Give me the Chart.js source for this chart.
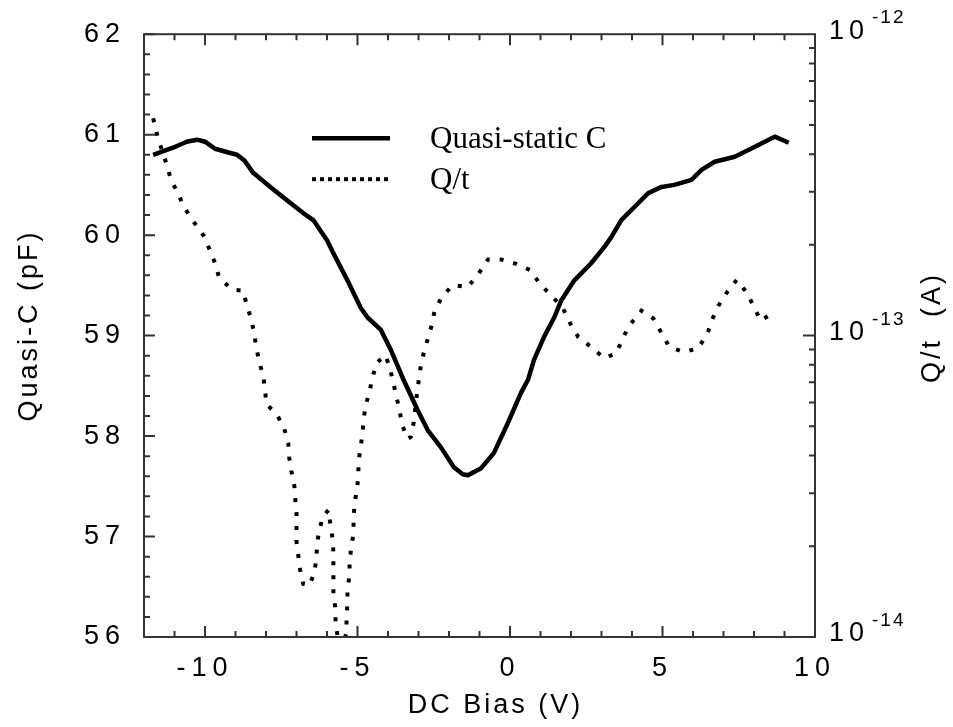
<!DOCTYPE html>
<html>
<head>
<meta charset="utf-8">
<title>Quasi-static C and Q/t vs DC Bias</title>
<script src="https://cdn.jsdelivr.net/npm/chart.js@4.4.1/dist/chart.umd.min.js"></script>
<style>
  html, body { margin: 0; padding: 0; background: #fff; }
  canvas { display: block; }
</style>
</head>
<body>
<canvas id="chart" width="953" height="727"></canvas>
<script>
// solid curve: quasi-static capacitance (pF) against DC bias (V)
const capBias = [-11.7, -11.05, -10.6, -10.26, -10.0, -9.67, -9.2, -8.95, -8.7, -8.42,
  -7.86, -7.2, -6.78, -6.45, -6.0, -5.79, -5.33, -4.9, -4.67, -4.24,
  -3.91, -3.49, -3.03, -2.7, -2.27, -1.84, -1.55, -1.38, -0.95, -0.53,
  -0.07, 0.36, 0.59, 0.79, 1.12, 1.45, 1.68, 2.11, 2.66, 3.09,
  3.32, 3.65, 4.21, 4.54, 4.97, 5.39, 5.95, 6.28, 6.71, 7.37,
  8.03, 8.68, 9.14];
const capValues = [60.80, 60.87, 60.93, 60.95, 60.93, 60.86, 60.82, 60.80, 60.74, 60.62,
  60.48, 60.32, 60.22, 60.15, 59.95, 59.82, 59.55, 59.28, 59.18, 59.06,
  58.86, 58.56, 58.26, 58.06, 57.89, 57.69, 57.62, 57.61, 57.68, 57.83,
  58.13, 58.43, 58.56, 58.76, 58.99, 59.18, 59.35, 59.55, 59.72, 59.88,
  59.98, 60.15, 60.32, 60.42, 60.48, 60.50, 60.55, 60.65, 60.73, 60.78,
  60.88, 60.98, 60.92];

// dotted curve: Q/t (A) against DC bias (V)
const qtBias = [-11.70, -11.55, -11.41, -11.25, -11.12, -10.89, -10.69, -10.39, -10.05, -9.86,
  -9.67, -9.54, -9.11, -8.75, -8.62, -8.49, -8.39, -8.32, -8.22, -8.09,
  -8.03, -7.99, -7.63, -7.40, -7.27, -7.24, -7.17, -7.07, -7.04, -7.00,
  -7.00, -7.00, -6.94, -6.88, -6.78, -6.58, -6.41, -6.35, -6.32, -6.25,
  -6.12, -5.95, -5.89, -5.82, -5.79, -5.79, -5.79, -5.79, -5.72, -5.72,
  -5.55, -5.36, -5.36, -5.33, -5.33, -5.26, -5.26, -5.20, -5.13, -5.13,
  -5.10, -5.03, -4.97, -4.97, -4.90, -4.84, -4.80, -4.74, -4.61, -4.51,
  -4.38, -4.08, -3.93, -3.82, -3.72, -3.62, -3.52, -3.36, -3.26, -3.16,
  -3.06, -3.00, -2.93, -2.83, -2.70, -2.57, -2.47, -2.24, -1.88, -1.38,
  -1.02, -0.72, -0.30, 0.20, 0.66, 0.99, 1.35, 1.74, 1.97, 2.24,
  2.70, 3.09, 3.49, 3.68, 3.91, 4.31, 4.70, 4.97, 5.23, 5.72,
  6.18, 6.48, 6.61, 6.84, 7.11, 7.43, 7.76, 7.99, 8.22, 8.68];
const qtValues = [5.26e-13, 4.55e-13, 4.12e-13, 3.68e-13, 3.30e-13, 2.97e-13, 2.67e-13, 2.40e-13, 2.15e-13, 1.94e-13,
  1.74e-13, 1.56e-13, 1.42e-13, 1.41e-13, 1.25e-13, 1.14e-13, 1.02e-13, 9.16e-14, 8.17e-14, 7.35e-14,
  6.59e-14, 5.93e-14, 5.45e-14, 4.90e-14, 4.40e-14, 3.95e-14, 3.56e-14, 3.17e-14, 2.87e-14, 2.58e-14,
  2.30e-14, 2.07e-14, 1.86e-14, 1.67e-14, 1.50e-14, 1.48e-14, 1.64e-14, 1.83e-14, 2.05e-14, 2.28e-14,
  2.52e-14, 2.64e-14, 2.37e-14, 2.13e-14, 1.91e-14, 1.71e-14, 1.53e-14, 1.38e-14, 1.24e-14, 1.11e-14,
  8.7e-15, 1.04e-14, 1.16e-14, 1.29e-14, 1.44e-14, 1.61e-14, 1.79e-14, 1.99e-14, 2.21e-14, 2.46e-14,
  2.74e-14, 3.05e-14, 3.40e-14, 3.80e-14, 4.24e-14, 4.71e-14, 5.25e-14, 5.83e-14, 6.50e-14, 7.23e-14,
  8.11e-14, 8.61e-14, 7.74e-14, 6.95e-14, 6.25e-14, 5.62e-14, 5.01e-14, 4.54e-14, 4.60e-14, 5.13e-14,
  6.31e-14, 7.02e-14, 7.87e-14, 8.75e-14, 9.72e-14, 1.08e-13, 1.21e-13, 1.34e-13, 1.47e-13, 1.45e-13,
  1.61e-13, 1.79e-13, 1.79e-13, 1.73e-13, 1.65e-13, 1.48e-13, 1.36e-13, 1.23e-13, 1.10e-13, 9.89e-14,
  9.10e-14, 8.41e-14, 8.75e-14, 9.72e-14, 1.08e-13, 1.21e-13, 1.14e-13, 1.02e-13, 9.16e-14, 8.81e-14,
  9.10e-14, 1.02e-13, 1.12e-13, 1.26e-13, 1.39e-13, 1.53e-13, 1.39e-13, 1.25e-13, 1.12e-13, 1.20e-13];

// axis ticks and labels
const xTicks = [-10, -5, 0, 5, 10];
const capTicks = [56, 57, 58, 59, 60, 61, 62];
const qtTicks = [1e-14, 1e-13, 1e-12];
const qtExponents = ['-14', '-13', '-12'];
const legendLabels = ['Quasi-static C', 'Q/t'];
const xTitle = 'DC Bias (V)';
const capTitle = 'Quasi-C (pF)';
const qtTitle = 'Q/t  (A)';

const sans = '"Liberation Sans", Arial, sans-serif';
const serif = '"Liberation Serif", "Times New Roman", serif';

const toPoints = (xs, ys) => xs.map((x, i) => ({ x: x, y: ys[i] }));

// frame, inward ticks, right-axis labels, titles and legend
const framePlugin = {
  id: 'frame',
  beforeDraw(chart) {
    chart.ctx.letterSpacing = '6px';
  },
  afterDraw(chart) {
    const { ctx, chartArea: a, scales } = chart;
    ctx.save();
    ctx.letterSpacing = '0px';
    ctx.strokeStyle = '#333';
    ctx.lineWidth = 2;
    ctx.strokeRect(a.left, a.top, a.right - a.left, a.bottom - a.top);

    ctx.beginPath();
    const mark = (x1, y1, x2, y2) => { ctx.moveTo(x1, y1); ctx.lineTo(x2, y2); };
    for (let v = -12; v <= 10; v++) {
      const x = scales.x.getPixelForValue(v);
      const len = xTicks.includes(v) ? 11 : 6;
      mark(x, a.bottom, x, a.bottom - len);
      mark(x, a.top, x, a.top + len);
    }
    for (let i = 0; i <= 30; i++) {
      const y = scales.y.getPixelForValue(56 + i * 0.2);
      mark(a.left, y, a.left + (i % 5 === 0 ? 11 : 6), y);
    }
    for (let d = -14; d < -12; d++) {
      for (let m = 1; m <= 9; m++) {
        const y = scales.y2.getPixelForValue(m * Math.pow(10, d));
        mark(a.right, y, a.right - (m === 1 ? 12 : 6), y);
      }
    }
    ctx.stroke();

    // right axis: 10 with a raised exponent
    ctx.fillStyle = '#000';
    ctx.textBaseline = 'middle';
    ctx.textAlign = 'left';
    qtTicks.forEach((v, i) => {
      const y = scales.y2.getPixelForValue(v);
      ctx.font = '27px ' + sans;
      ctx.letterSpacing = '5px';
      ctx.fillText('10', a.right + 14, y - 3);
      ctx.font = '19px ' + sans;
      ctx.letterSpacing = '2px';
      ctx.fillText(qtExponents[i], a.right + 57, y - 16);
    });

    // axis titles
    ctx.font = '27px ' + sans;
    ctx.letterSpacing = '3px';
    ctx.textAlign = 'center';
    ctx.fillText(xTitle, (a.left + a.right) / 2 + 16, 706);
    ctx.save();
    ctx.translate(30, (a.top + a.bottom) / 2 - 10);
    ctx.rotate(-Math.PI / 2);
    ctx.fillText(capTitle, 0, 0);
    ctx.restore();
    ctx.save();
    ctx.translate(933, (a.top + a.bottom) / 2 - 8);
    ctx.rotate(-Math.PI / 2);
    ctx.fillText(qtTitle, 0, 0);
    ctx.restore();

    // legend
    ctx.letterSpacing = '0px';
    ctx.strokeStyle = '#000';
    ctx.lineWidth = 4.5;
    ctx.beginPath();
    ctx.moveTo(a.left + 168, a.top + 104);
    ctx.lineTo(a.left + 246, a.top + 104);
    ctx.stroke();
    ctx.lineWidth = 4;
    ctx.setLineDash([4, 4]);
    ctx.beginPath();
    ctx.moveTo(a.left + 168, a.top + 145);
    ctx.lineTo(a.left + 246, a.top + 145);
    ctx.stroke();
    ctx.setLineDash([]);
    ctx.font = '31px ' + serif;
    ctx.textAlign = 'left';
    ctx.textBaseline = 'alphabetic';
    ctx.fillText(legendLabels[0], a.left + 286, a.top + 114);
    ctx.fillText(legendLabels[1], a.left + 286, a.top + 155);
    ctx.restore();
  }
};

new Chart(document.getElementById('chart'), {
  type: 'line',
  data: {
    datasets: [
      {
        label: legendLabels[0],
        data: toPoints(capBias, capValues),
        yAxisID: 'y',
        borderColor: '#000',
        borderWidth: 4.5,
        borderJoinStyle: 'round',
        pointRadius: 0,
        tension: 0
      },
      {
        label: legendLabels[1],
        data: toPoints(qtBias, qtValues),
        yAxisID: 'y2',
        borderColor: '#000',
        borderWidth: 4,
        borderDash: [4, 10],
        pointRadius: 0,
        tension: 0
      }
    ]
  },
  options: {
    responsive: false,
    animation: false,
    layout: { padding: { top: 34, left: 0, right: 0, bottom: 0 } },
    plugins: { legend: { display: false }, tooltip: { enabled: false } },
    scales: {
      x: {
        type: 'linear',
        min: -12,
        max: 10,
        grid: { display: false, drawTicks: false },
        border: { display: false },
        afterBuildTicks: (s) => { s.ticks = xTicks.map((v) => ({ value: v })); },
        afterFit: (s) => { s.height = 90; },
        ticks: { color: '#000', font: { family: sans, size: 27 }, padding: 15, maxRotation: 0, autoSkip: false }
      },
      y: {
        type: 'linear',
        position: 'left',
        min: 56,
        max: 62,
        grid: { display: false, drawTicks: false },
        border: { display: false },
        afterBuildTicks: (s) => { s.ticks = capTicks.map((v) => ({ value: v })); },
        afterFit: (s) => { s.width = 144; },
        ticks: { color: '#000', font: { family: sans, size: 27 }, padding: 18, autoSkip: false }
      },
      y2: {
        type: 'logarithmic',
        position: 'right',
        min: 1e-14,
        max: 1e-12,
        grid: { display: false, drawTicks: false },
        border: { display: false },
        afterBuildTicks: (s) => { s.ticks = qtTicks.map((v) => ({ value: v })); },
        afterFit: (s) => { s.width = 138; },
        ticks: { display: false }
      }
    }
  },
  plugins: [framePlugin]
});
</script>
</body>
</html>
